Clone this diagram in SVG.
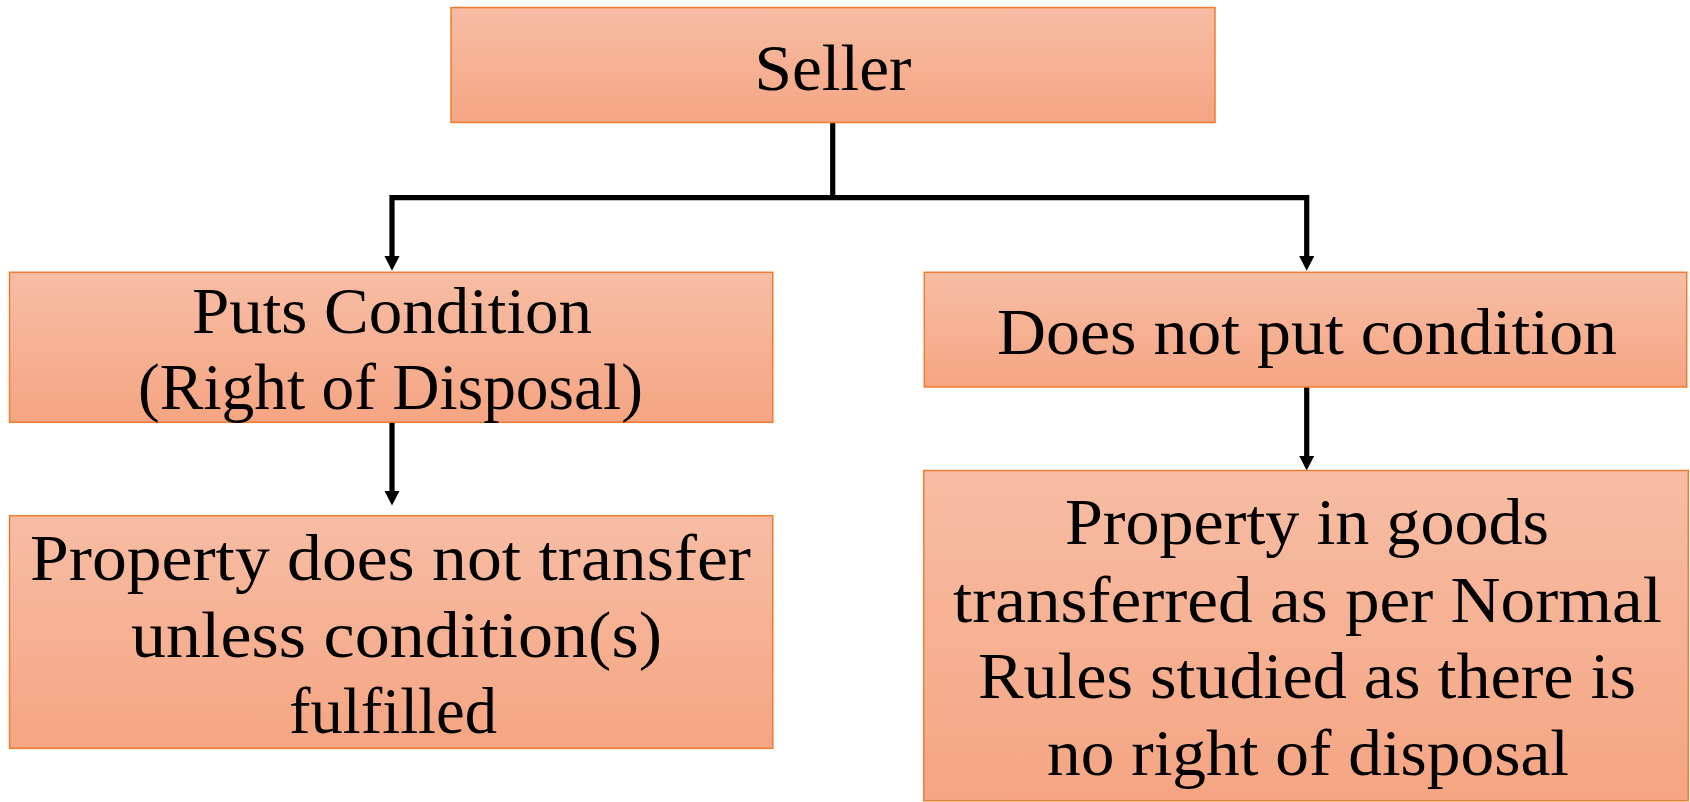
<svg xmlns="http://www.w3.org/2000/svg" width="1690" height="802" viewBox="0 0 1690 802">
  <defs>
    <linearGradient id="boxFill" x1="0" y1="0" x2="0" y2="1">
      <stop offset="0" stop-color="#F7BDA4"/>
      <stop offset="1" stop-color="#F5A583"/>
    </linearGradient>
    <marker id="arrow" viewBox="0 0 15 15.4" refX="5" refY="7.7" markerWidth="15" markerHeight="15.4" markerUnits="userSpaceOnUse" orient="auto-start-reverse">
      <path d="M0,0 L15,7.7 L0,15.4 Z" fill="#000"/>
    </marker>
    <style>
      .box { fill: url(#boxFill); stroke: #ED7D31; stroke-width: 1.5; }
      .lbl { font-family: "Liberation Serif", "Times New Roman", serif; font-size: 65px; fill: #000; text-anchor: middle; }
      .wire { fill: none; stroke: #000; stroke-width: 5.2; stroke-linejoin: miter; }
    </style>
  </defs>
  <rect width="1690" height="802" fill="#fff"/>

  <!-- connectors -->
  <g id="connectors">
    <path class="wire" d="M832.7,122.5 V197.7"/>
    <path class="wire" d="M392,260.7 V197.7 H1306.7 V260.7" marker-start="url(#arrow)" marker-end="url(#arrow)"/>
    <path class="wire" d="M392,422.3 V495.5" marker-end="url(#arrow)"/>
    <path class="wire" d="M1306.7,387 V460.5" marker-end="url(#arrow)"/>
  </g>

  <g id="seller">
    <rect class="box" x="451" y="7.5" width="764" height="115"/>
    <text class="lbl" x="833" y="90" textLength="157" lengthAdjust="spacingAndGlyphs">Seller</text>
  </g>

  <g id="puts-condition">
    <rect class="box" x="9.5" y="272.3" width="763.3" height="150"/>
    <text class="lbl" x="392" y="332.7" textLength="400" lengthAdjust="spacingAndGlyphs">Puts Condition</text>
    <text class="lbl" x="390.5" y="409" textLength="505" lengthAdjust="spacingAndGlyphs">(Right of Disposal)</text>
  </g>

  <g id="no-condition">
    <rect class="box" x="924.3" y="272.3" width="762.4" height="114.7"/>
    <text class="lbl" x="1307" y="354" textLength="620" lengthAdjust="spacingAndGlyphs">Does not put condition</text>
  </g>

  <g id="no-transfer">
    <rect class="box" x="9.5" y="515.7" width="763.3" height="232.6"/>
    <text class="lbl" x="390.5" y="580" textLength="721" lengthAdjust="spacingAndGlyphs">Property does not transfer</text>
    <text class="lbl" x="396.5" y="656.7" textLength="531" lengthAdjust="spacingAndGlyphs">unless condition(s)</text>
    <text class="lbl" x="393" y="733" textLength="208" lengthAdjust="spacingAndGlyphs">fulfilled</text>
  </g>

  <g id="normal-rules">
    <rect class="box" x="923.7" y="470.5" width="764.6" height="330.2"/>
    <text class="lbl" x="1307" y="544.3" textLength="484" lengthAdjust="spacingAndGlyphs">Property in goods</text>
    <text class="lbl" x="1307.5" y="621.7" textLength="709" lengthAdjust="spacingAndGlyphs">transferred as per Normal</text>
    <text class="lbl" x="1307" y="698.3" textLength="658" lengthAdjust="spacingAndGlyphs">Rules studied as there is</text>
    <text class="lbl" x="1308" y="775" textLength="522" lengthAdjust="spacingAndGlyphs">no right of disposal</text>
  </g>
</svg>
